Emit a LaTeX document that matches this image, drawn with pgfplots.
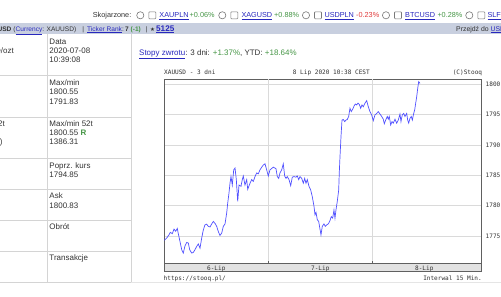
\documentclass[border=0pt]{standalone}
\usepackage{pgfplots}
\pgfplotsset{compat=1.18}
\usepackage{fontspec}
\setmainfont{Liberation Sans}
\newfontfamily\monof{DejaVu Sans Mono}
\newfontfamily\dejavu{DejaVu Sans}
\newcommand{\fs}[1]{\fontsize{#1}{#1}\selectfont}
\definecolor{txt}{RGB}{51,51,51}
\definecolor{lnk}{RGB}{40,40,190}
\definecolor{grn}{RGB}{70,150,70}
\definecolor{redq}{RGB}{225,60,60}
\definecolor{band}{RGB}{200,207,223}
\definecolor{sep}{RGB}{212,212,212}
\definecolor{boxgray}{RGB}{120,120,120}
\definecolor{bordergray}{RGB}{96,96,96}
\definecolor{gridgray}{RGB}{218,218,218}
\definecolor{stripgray}{RGB}{226,226,226}
\definecolor{lineblue}{RGB}{80,80,255}
\newcommand{\lk}[1]{{\color{lnk}\underline{#1}}}
\newcommand{\rb}[1]{%
  \draw[boxgray, fill=white, line width=0.6] (#1,-15.3) circle (3.6);
  \draw[boxgray, fill=white, line width=0.6, rounded corners=0.8] (#1+8.5,-18.8) rectangle (#1+15.5,-11.8);}
\begin{document}
\begin{tikzpicture}
\useasboundingbox (0,0) rectangle (501bp,-297bp);
\clip (0,0) rectangle (501bp,-297bp);
\fill[white] (0,0) rectangle (501bp,-297bp);
\begin{scope}[x=1bp,y=1bp]
  % top row
  \node[anchor=base west, inner sep=0, font=\fs{7.3}, text=txt] at (92.7,-17.9) {Skojarzone:};
  \rb{140.3}\rb{222.3}\rb{306}\rb{386}\rb{469.3}
  \node[anchor=base west, inner sep=0, font=\fs{7.3}] at (159.3,-17.9) {\lk{XAUPLN}};
  \node[anchor=base west, inner sep=0, font=\fs{7.3}, text=grn] at (189.5,-17.9) {+0.06\%};
  \node[anchor=base west, inner sep=0, font=\fs{7.3}] at (241.3,-17.9) {\lk{XAGUSD}};
  \node[anchor=base west, inner sep=0, font=\fs{7.3}, text=grn] at (274,-17.9) {+0.88\%};
  \node[anchor=base west, inner sep=0, font=\fs{7.3}] at (324.3,-17.9) {\lk{USDPLN}};
  \node[anchor=base west, inner sep=0, font=\fs{7.3}, text=redq] at (356,-17.9) {-0.23\%};
  \node[anchor=base west, inner sep=0, font=\fs{7.3}] at (405,-17.9) {\lk{BTCUSD}};
  \node[anchor=base west, inner sep=0, font=\fs{7.3}, text=grn] at (437.3,-17.9) {+0.28\%};
  \node[anchor=base west, inner sep=0, font=\fs{7.3}] at (487.3,-17.9) {\lk{SLFUSD}};
  % band
  \fill[band] (0,-22.7) rectangle (501,-34.3);
  \begin{scope}[every node/.style={anchor=base west, inner sep=0, font=\fs{6.6}, text=txt}]
    \node[anchor=base east, font=\fs{6.6}\bfseries] at (11.7,-31) {XAUUSD};
    \node at (13.3,-31) {(\lk{Currency}: XAUUSD)};
    \node at (82.2,-31) {|};
    \node at (87,-31) {\lk{Ticker Rank}:};
    \node[font=\fs{6.6}\bfseries] at (125,-31) {7};
    \node[font=\fs{6.6}\bfseries, text=grn] at (130.5,-31) {(-1)};
    \node at (145.5,-31) {|};
    \node[font=\dejavu\fs{5.5}] at (150,-31) {★};
    \node[font=\fs{8.2}\bfseries] at (156,-31) {\lk{5125}};
    \node[font=\fs{6.9}] at (456,-31) {Przejdź do \lk{USDPLN}};
  \end{scope}
  % table
  \foreach \yy in {75,117.3,158.3,189.3,220,251,282.3} \draw[sep, line width=0.6] (0,-\yy) -- (131,-\yy);
  \draw[sep, line width=0.6] (47.3,-34.3) -- (47.3,-282.3);
  \draw[sep, line width=0.6] (131,-34.3) -- (131,-282.3);
  \draw[gridgray!70, line width=0.6] (131,-282.3) -- (501,-282.3);
  \begin{scope}[every node/.style={anchor=base west, inner sep=0, font=\fs{8}, text=txt}]
    \node at (49.3,-44.5) {Data};
    \node at (49.3,-53.5) {2020-07-08};
    \node at (49.3,-62.8) {10:39:08};
    \node at (49.3,-85.5) {Max/min};
    \node at (49.3,-94.8) {1800.55};
    \node at (49.3,-104) {1791.83};
    \node at (49.3,-126.1) {Max/min 52t};
    \node at (49.3,-135.5) {1800.55 {\color{grn}\textbf{R}}};
    \node at (49.3,-144.8) {1386.31};
    \node at (49.3,-168.5) {Poprz. kurs};
    \node at (49.3,-177.8) {1794.85};
    \node at (49.3,-198.8) {Ask};
    \node at (49.3,-208.1) {1800.83};
    \node at (49.3,-229.8) {Obrót};
    \node at (49.3,-260.8) {Transakcje};
    \node[anchor=base east] at (14,-53.5) {USD/ozt};
    \node[anchor=base east] at (5,-126.1) {Zmiana 52t};
    \node[anchor=base east] at (2.7,-144.8) {(29.9\%)};
    \node at (139,-55.1) {\lk{Stopy zwrotu}: 3 dni: {\color{grn}+1.37\%}, YTD: {\color{grn}+18.64\%}};
  \end{scope}
  % chart header / footer
  \begin{scope}[every node/.style={inner sep=0, font=\monof\fs{6.1}, text=txt}]
    \node[anchor=base west] at (164,-74.7) {XAUUSD - 3 dni};
    \node[anchor=base west] at (292.7,-74.7) {8 Lip 2020 10:38 CEST};
    \node[anchor=base east] at (482.3,-74.7) {(C)Stooq};
    \node[anchor=base west] at (163.5,-280) {https://stooq.pl/};
    \node[anchor=base east] at (482,-280) {Interwal 15 Min.};
  \end{scope}
  % date strip
  \draw[bordergray, fill=stripgray, line width=0.8] (164.3,-263.5) rectangle (481,-271.7);
\end{scope}
\begin{axis}[
  name=ax,
  at={(164.3bp,-263.5bp)}, anchor=south west,
  scale only axis, width=316.7bp, height=184.5bp,
  xmin=0, xmax=73.09, ymin=1770.48, ymax=1800.87,
  axis line style={draw=bordergray, line width=0.8bp},
  xtick={12,36,60}, xticklabels={6-Lip,7-Lip,8-Lip},
  major tick length=0pt,
  xtick pos=left,
  extra x ticks={24,48}, extra x tick labels={},
  extra x tick style={xmajorgrids=true, major tick length=2.5bp, tick align=inside, tick style={draw=bordergray, line width=0.6bp}},
  ytick={1775,1780,1785,1790,1795,1800},
  yticklabels={1775,1780,1785,1790,1795,1800},
  ymajorgrids=true, yticklabel pos=right, ytick pos=right,
  grid style={draw=gridgray, line width=0.6bp},
  tick label style={font=\monof\fs{6.1}, text=txt},
  xticklabel style={inner sep=0pt, anchor=north, yshift=-1.8bp},
  yticklabel style={inner sep=0pt, anchor=west, xshift=4.5bp},
]
\addplot[lineblue, line width=0.7bp, no marks] coordinates {
(0.0,1774.28) (0.55,1774.67) (1.08,1775.2) (1.38,1775.6) (1.85,1775.4) (2.24,1776.15) (2.63,1775.8) (3.0,1776.25) (3.23,1775.4) (3.62,1774.1) (4.02,1772.75) (4.38,1772.2) (4.78,1773.4) (5.17,1773.95) (5.54,1773.85) (5.86,1772.75) (6.32,1772.2) (6.69,1772.3) (7.08,1772.75) (7.48,1773.3) (7.85,1773.7) (8.24,1773.0) (8.63,1774.67) (9.0,1776.0) (9.39,1776.85) (9.78,1776.96) (10.15,1776.6) (10.55,1776.5) (10.94,1777.0) (11.31,1777.4) (11.7,1777.1) (12.09,1776.6) (12.46,1775.75) (12.85,1775.1) (13.25,1775.5) (13.62,1776.6) (14.01,1777.0) (14.4,1778.8) (14.63,1780.4) (14.93,1782.1) (15.16,1783.7) (15.39,1784.8) (15.69,1783.4) (16.02,1785.9) (16.32,1786.2) (16.62,1784.3) (16.94,1780.7) (17.24,1783.4) (17.7,1783.2) (18.0,1784.3) (18.23,1784.9) (18.62,1783.4) (19.02,1784.3) (19.25,1782.7) (19.78,1783.7) (20.17,1784.3) (20.54,1784.0) (20.93,1784.8) (21.32,1785.4) (21.69,1785.25) (22.08,1785.9) (22.48,1786.35) (22.85,1786.7) (23.24,1786.9) (23.63,1785.9) (24.0,1784.9) (24.39,1785.9) (25.15,1786.35) (25.78,1786.1) (26.08,1784.8) (26.4,1784.5) (26.7,1785.4) (27.09,1785.9) (27.46,1786.9) (27.78,1784.9) (28.08,1784.5) (28.38,1784.8) (28.78,1784.3) (29.17,1783.3) (29.54,1784.7) (29.93,1784.8) (30.39,1784.7) (30.69,1784.9) (31.02,1784.3) (31.32,1784.8) (31.71,1784.5) (32.08,1783.7) (32.4,1784.5) (32.7,1783.7) (33.0,1784.3) (33.39,1783.2) (33.78,1782.6) (34.15,1781.5) (34.55,1779.9) (34.78,1778.5) (35.01,1778.9) (35.31,1777.7) (35.63,1777.4) (35.93,1776.15) (36.16,1775.2) (36.46,1776.6) (36.85,1777.0) (37.15,1776.6) (37.48,1776.85) (37.85,1777.0) (38.24,1777.55) (38.54,1778.2) (38.86,1777.95) (39.16,1779.3) (39.39,1777.95) (39.62,1779.3) (39.92,1780.7) (40.25,1782.6) (40.38,1785.4) (40.55,1788.1) (40.78,1791.4) (41.01,1794.1) (41.31,1794.2) (41.63,1793.85) (41.93,1794.1) (42.23,1794.2) (42.55,1794.7) (42.85,1796.05) (43.15,1795.5) (43.48,1795.9) (43.78,1796.4) (44.08,1796.75) (44.4,1796.6) (44.7,1796.9) (45.0,1796.7) (45.32,1796.05) (45.62,1796.6) (45.92,1796.3) (46.32,1796.9) (46.71,1797.3) (47.08,1796.3) (47.47,1795.5) (47.86,1794.95) (48.23,1794.0) (48.62,1794.95) (49.02,1795.2) (49.38,1795.5) (49.78,1795.1) (50.17,1794.7) (50.54,1794.25) (50.77,1793.5) (51.09,1794.1) (51.46,1794.7) (51.69,1794.25) (51.92,1794.7) (52.25,1793.3) (52.55,1793.85) (52.85,1793.6) (53.24,1794.25) (53.63,1793.6) (54.0,1794.1) (54.39,1795.1) (54.62,1793.85) (54.92,1794.95) (55.25,1795.2) (55.55,1794.7) (55.94,1795.2) (56.17,1794.1) (56.4,1793.6) (56.7,1794.4) (57.0,1794.7) (57.24,1794.1) (57.56,1795.2) (57.79,1795.8) (58.02,1796.9) (58.25,1797.95) (58.48,1799.3) (58.71,1800.43) (59.01,1800.15)
};
\end{axis}
\end{tikzpicture}
\end{document}
